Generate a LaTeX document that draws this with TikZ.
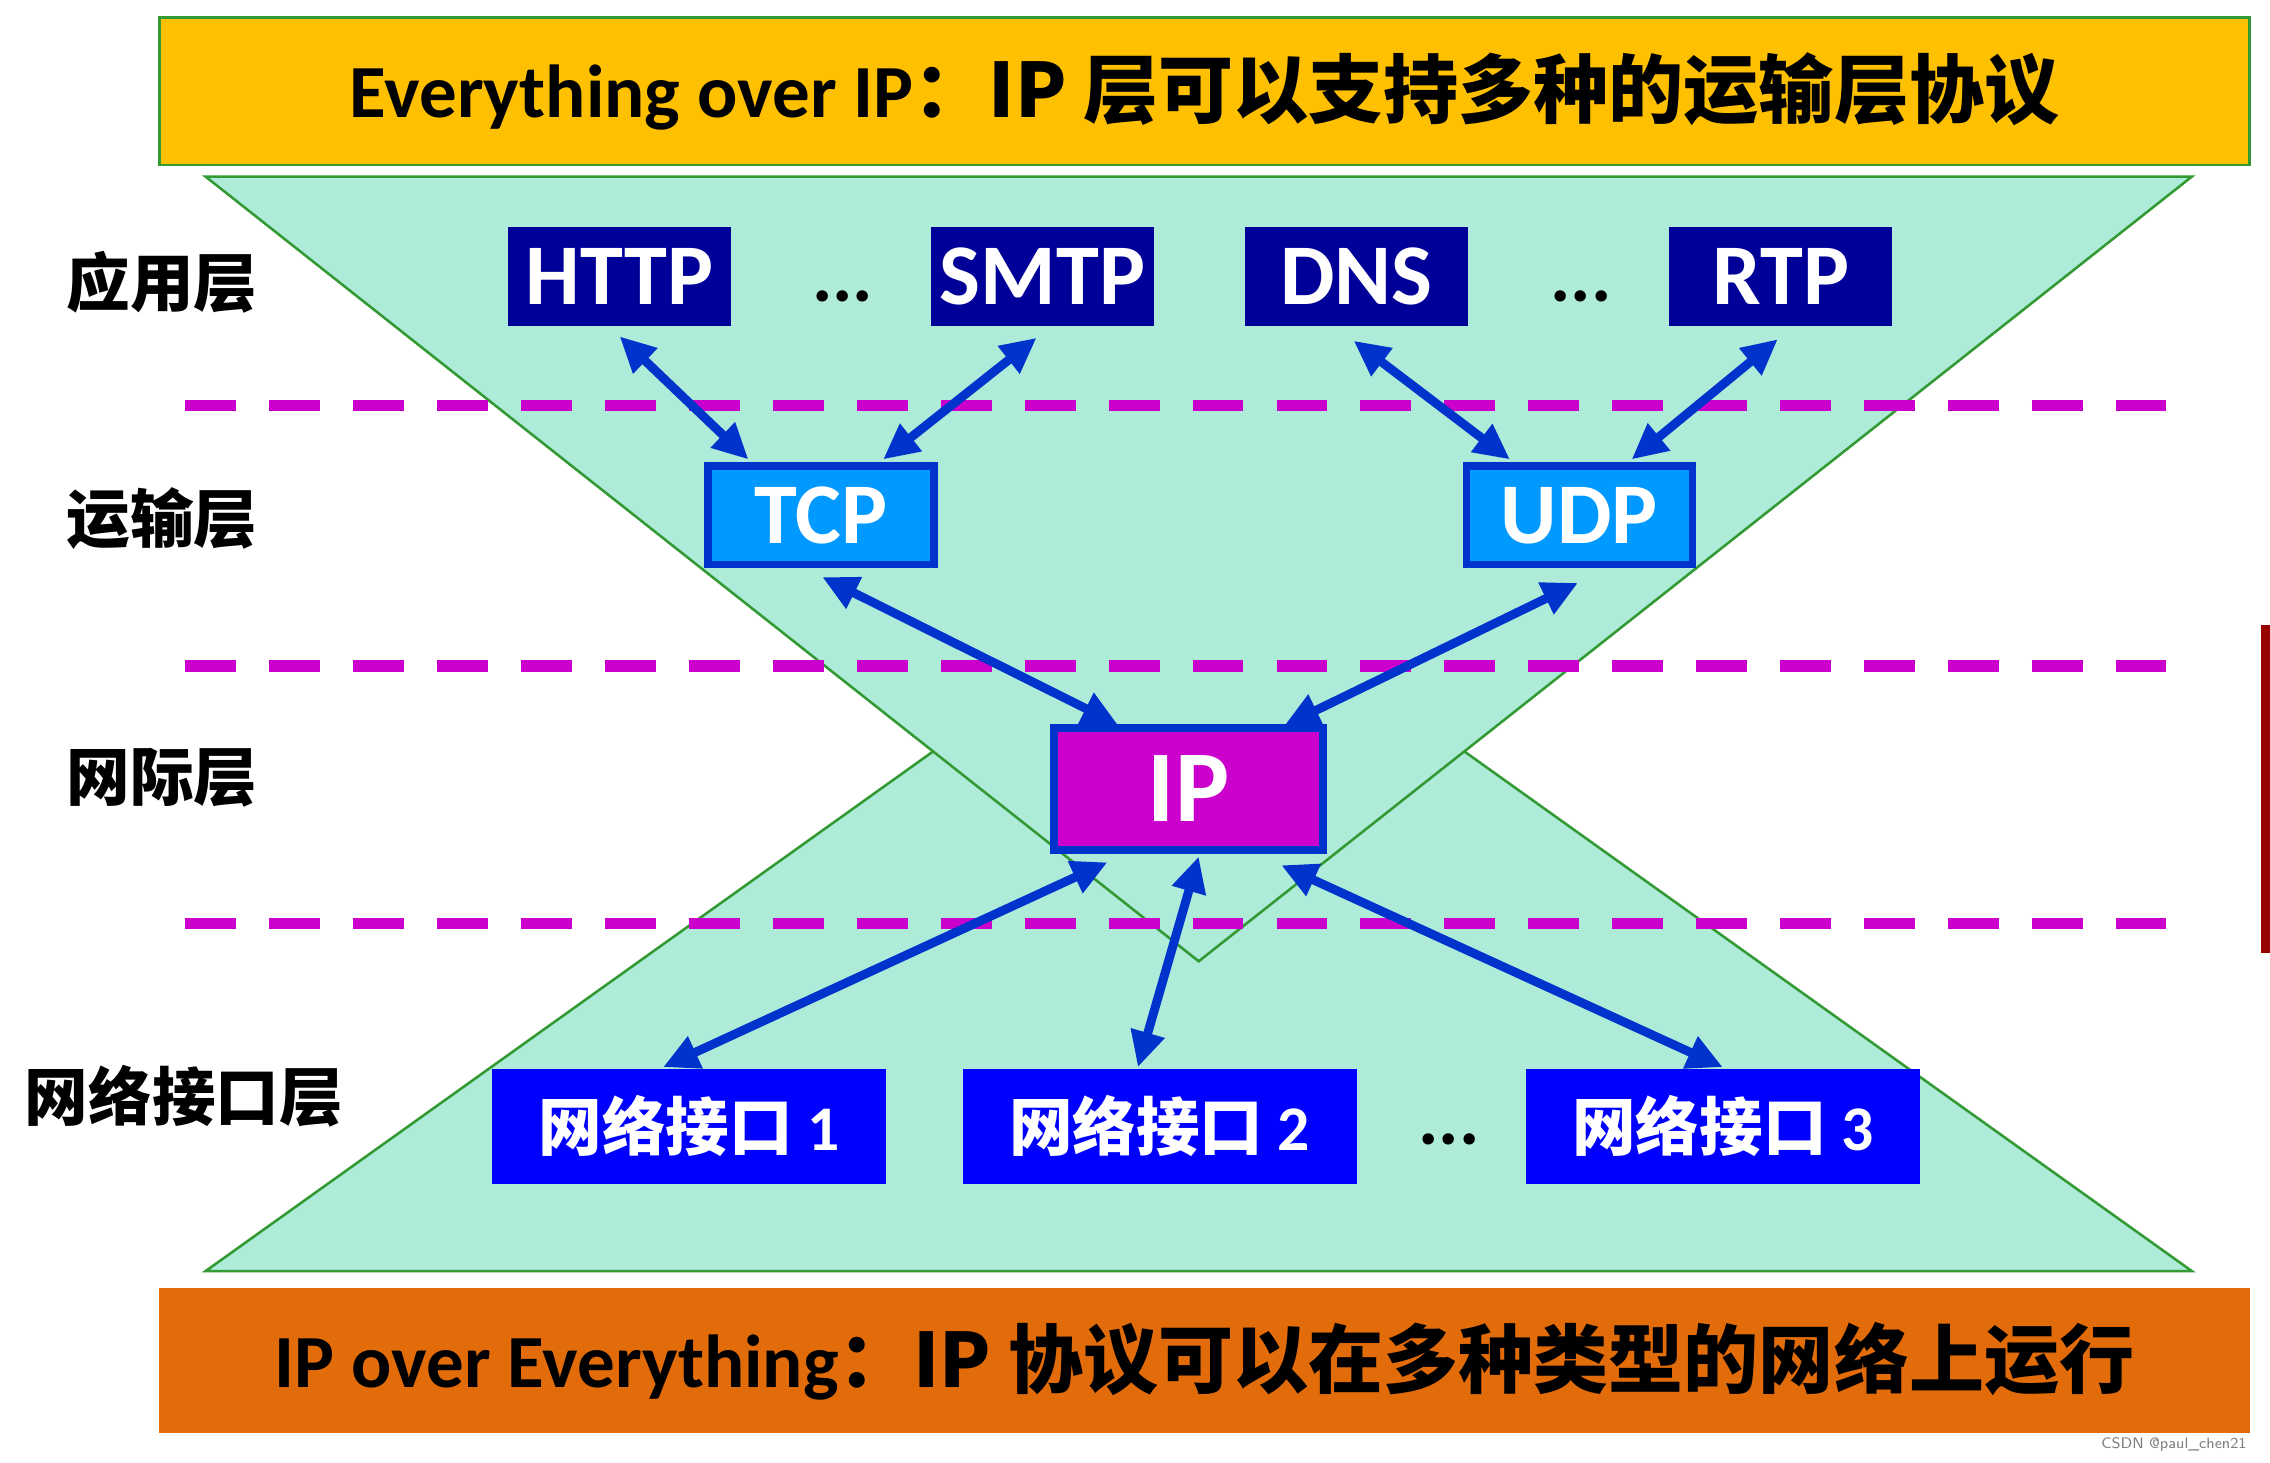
\documentclass[tikz,border=0pt]{standalone}
\usepackage{fontspec}
\setmainfont{Carlito}
\newfontfamily\cjk{Noto Sans CJK SC}
\usetikzlibrary{calc,arrows.meta}
\definecolor{navy}{HTML}{000099}
\definecolor{tri}{HTML}{AEEBD9}
\definecolor{trib}{HTML}{339933}
\definecolor{arr}{HTML}{0033CC}
\definecolor{tcpf}{HTML}{0099FF}
\definecolor{ipf}{HTML}{CC00CC}
\definecolor{ifb}{HTML}{0000FF}
\definecolor{orng}{HTML}{E36C0A}
\definecolor{yel}{HTML}{FFC000}
\definecolor{mag}{HTML}{CC00CC}
\begin{document}
\begin{tikzpicture}[x=0.02cm,y=-0.02cm,
  app/.style={fill=navy,text=white,minimum width=154*0.02cm,minimum height=68*0.02cm,font=\fontsize{34}{36}\bfseries,inner sep=0},
  tr/.style={fill=tcpf,draw=arr,line width=3pt,text=white,minimum width=156*0.02cm,minimum height=68*0.02cm,font=\fontsize{34}{36}\bfseries,inner sep=0},
  itf/.style={fill=ifb,text=white,minimum width=272*0.02cm,minimum height=79*0.02cm,font=\fontsize{25}{28}\bfseries,inner sep=0},
  lay/.style={font=\fontsize{25}{28}\cjk\bfseries,anchor=center},
  dots/.style={font=\fontsize{30}{30}\bfseries},
  magdash/.style={mag,line width=4.5pt,dash pattern=on 20pt off 13pt},
  dbl/.style={arr,line width=3.5pt,{Triangle[length=14pt,width=13pt]}-{Triangle[length=14pt,width=13pt]}}]
\useasboundingbox (0,0) rectangle (1568,1010);
\fill[white] (0,0) rectangle (1568,1010);
% banners
\node[draw=trib,line width=1pt,fill=yel,minimum width=1444*0.02cm,minimum height=102*0.02cm,inner sep=0] (top) at (832,63)
 {\fontsize{29.5}{32}\bfseries Everything over IP\cjk{：}IP {\cjk 层可以支持多种的运输层协议}};
\node[fill=orng,minimum width=1444*0.02cm,minimum height=100*0.02cm,inner sep=0] (bot) at (832,940)
 {\fontsize{29.5}{32}\bfseries IP over Everything\cjk{：}IP {\cjk 协议可以在多种类型的网络上运行}};
% triangles
\filldraw[fill=tri,draw=trib,line width=1pt] (142,878) -- (828,388) -- (1514,878) -- cycle;
\filldraw[fill=tri,draw=trib,line width=1pt] (142,122) -- (1514,122) -- (828,664) -- cycle;
% dashed lines
\foreach \y/\n in {280/a,460/b,638/c} \draw[magdash] (128,\y) coordinate (d\n1) -- (1496,\y) coordinate (d\n2);
% layer labels
\node[lay] (l1) at (112,195) {应用层};
\node[lay] (l2) at (112,358) {运输层};
\node[lay] (l3) at (112,537) {网际层};
\node[lay] (l4) at (127,757) {网络接口层};
% app
\node[app] (http) at (428,191) {HTTP};
\node[app] (smtp) at (720,191) {SMTP};
\node[app] (dns) at (937,191) {DNS};
\node[app] (rtp) at (1230,191) {RTP};
\node[dots] (d1) at (582,205) {...};
\node[dots] (d2) at (1092,205) {...};
\node[dots] (d3) at (1001,787) {...};
% transport
\node[tr] (tcp) at (567,356) {TCP};
\node[tr] (udp) at (1091,356) {UDP};
\node[tr,fill=ipf,minimum width=186*0.02cm,minimum height=84*0.02cm,font=\fontsize{40}{42}\bfseries] (ip) at (821,545) {IP};
% interfaces
\node[itf] (i1) at (476,778) {{\cjk 网络接口} 1};
\node[itf] (i2) at (801,778) {{\cjk 网络接口} 2};
\node[itf] (i3) at (1190,778) {{\cjk 网络接口} 3};
% arrows
\draw[dbl] ($(http.south)+(0,7)$) -- ($(tcp.north)+(-50,-2)$);
\draw[dbl] ($(smtp.south)+(-4,8)$) -- ($(tcp.north)+(43,-2)$);
\draw[dbl] ($(dns.south)+(-2,10)$) -- ($(udp.north)+(-48,-2)$);
\draw[dbl] ($(rtp.south)+(-2,9)$) -- ($(udp.north)+(36,-2)$);
\draw[dbl] ($(tcp.south)+(1,6)$) -- ($(ip.north)+(-49,0)$);
\draw[dbl] ($(udp.south)+(-1,10)$) -- ($(ip.north)+(66,1)$);
\draw[dbl] ($(ip.south)+(-56,6)$) -- ($(i1.north)+(-18,-1)$);
\draw[dbl] ($(ip.south)+(7,2)$) -- ($(i2.north)+(-15,-1)$);
\draw[dbl] ($(ip.south)+(64,8)$) -- ($(i3.north)+(0,-1)$);
% side mark & watermark
\fill[red!60!black] (1562,432) rectangle (1568,658);
\node[font=\fontsize{6}{7}\sffamily,text=gray,anchor=east] (wm) at (1558,998) {CSDN @paul\_chen21};
\end{tikzpicture}
\end{document}
